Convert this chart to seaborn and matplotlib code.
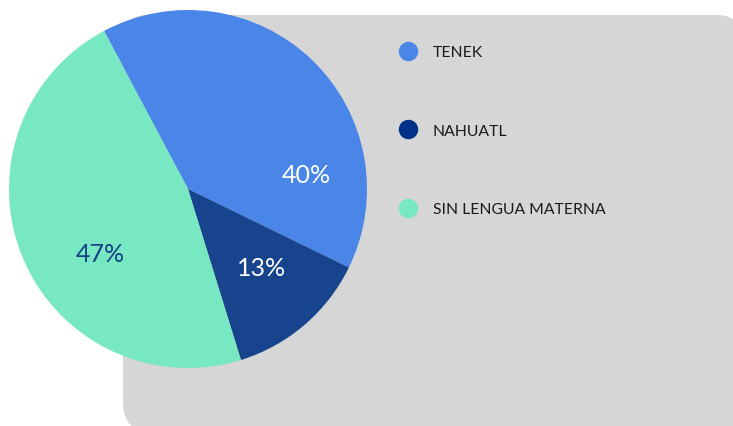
import matplotlib
matplotlib.use("Agg")
import matplotlib.pyplot as plt
import seaborn as sns
from matplotlib.patches import PathPatch
from matplotlib.path import Path
from matplotlib.lines import Line2D
from matplotlib.transforms import IdentityTransform

# --- data ---
languages = ["TENEK", "NAHUATL", "SIN LENGUA MATERNA"]
shares = [40, 13, 47]
slice_colors = ["#4A86E8", "#17448C", "#78E8C2"]
legend_colors = ["#4A86E8", "#003087", "#78E8C2"]
pct_colors = ["white", "white", "#163F8A"]
# label spots inside the pie (radius units)
pct_spots = [(0.66, 0.08), (0.41, -0.44), (-0.49, -0.36)]

sns.set_theme(style="white")
plt.rcParams["font.family"] = ["Lato", "DejaVu Sans"]

W, H = 733, 427
fig = plt.figure(figsize=(W / 100, H / 100), dpi=100)
fig.patch.set_facecolor("white")

# grey card behind everything (pixels from top-left); the bottom-right
# corner falls off the canvas, so only three corners are rounded
L, R, T, B = 123, 741, 16, 433
rt, rb = 24, 29
pts = [(L + rt, T), (R - rt, T), (R, T), (R, T + rt), (R, B),
       (L + rb, B), (L, B), (L, B - rb), (L, T + rt), (L, T), (L + rt, T),
       (L + rt, T)]
codes = [Path.MOVETO, Path.LINETO, Path.CURVE3, Path.CURVE3, Path.LINETO,
         Path.LINETO, Path.CURVE3, Path.CURVE3, Path.LINETO, Path.CURVE3,
         Path.CURVE3, Path.CLOSEPOLY]
card = PathPatch(Path([(x, H - y) for x, y in pts], codes),
                 transform=IdentityTransform(),
                 facecolor="#D6D6D6", edgecolor="none", zorder=-5)
fig.patches.append(card)

# pie axes, centre ~ (188, 190) px from top, radius ~179 px
cx, cy, r = 188, H - 190, 179
ax = fig.add_axes([(cx - r) / W, (cy - r) / H, 2 * r / W, 2 * r / H], zorder=2)
ax.set_facecolor("none")
ax.patch.set_alpha(0)

wedges, _, autotexts = ax.pie(shares, colors=slice_colors, startangle=118,
                              counterclock=False, autopct="%d%%",
                              pctdistance=0.6, radius=1,
                              wedgeprops=dict(linewidth=0))
for t, c, pos in zip(autotexts, pct_colors, pct_spots):
    t.set_color(c)
    t.set_fontsize(18)
    t.set_position(pos)
ax.set_xlim(-1, 1)
ax.set_ylim(-1, 1)
ax.set_aspect("equal")

handles = [Line2D([0], [0], marker="o", linestyle="none", markersize=14,
                  markerfacecolor=c, markeredgecolor="none") for c in legend_colors]
leg = fig.legend(handles, languages, loc="upper left",
                 bbox_to_anchor=(392 / W, 1 - 46 / H),
                 frameon=False, fontsize=11.3, labelspacing=4.12,
                 handletextpad=0.6, borderpad=0, borderaxespad=0,
                 labelcolor="#1a1a1a")
leg.set_zorder(3)

fig.savefig("out.png", dpi=100)
